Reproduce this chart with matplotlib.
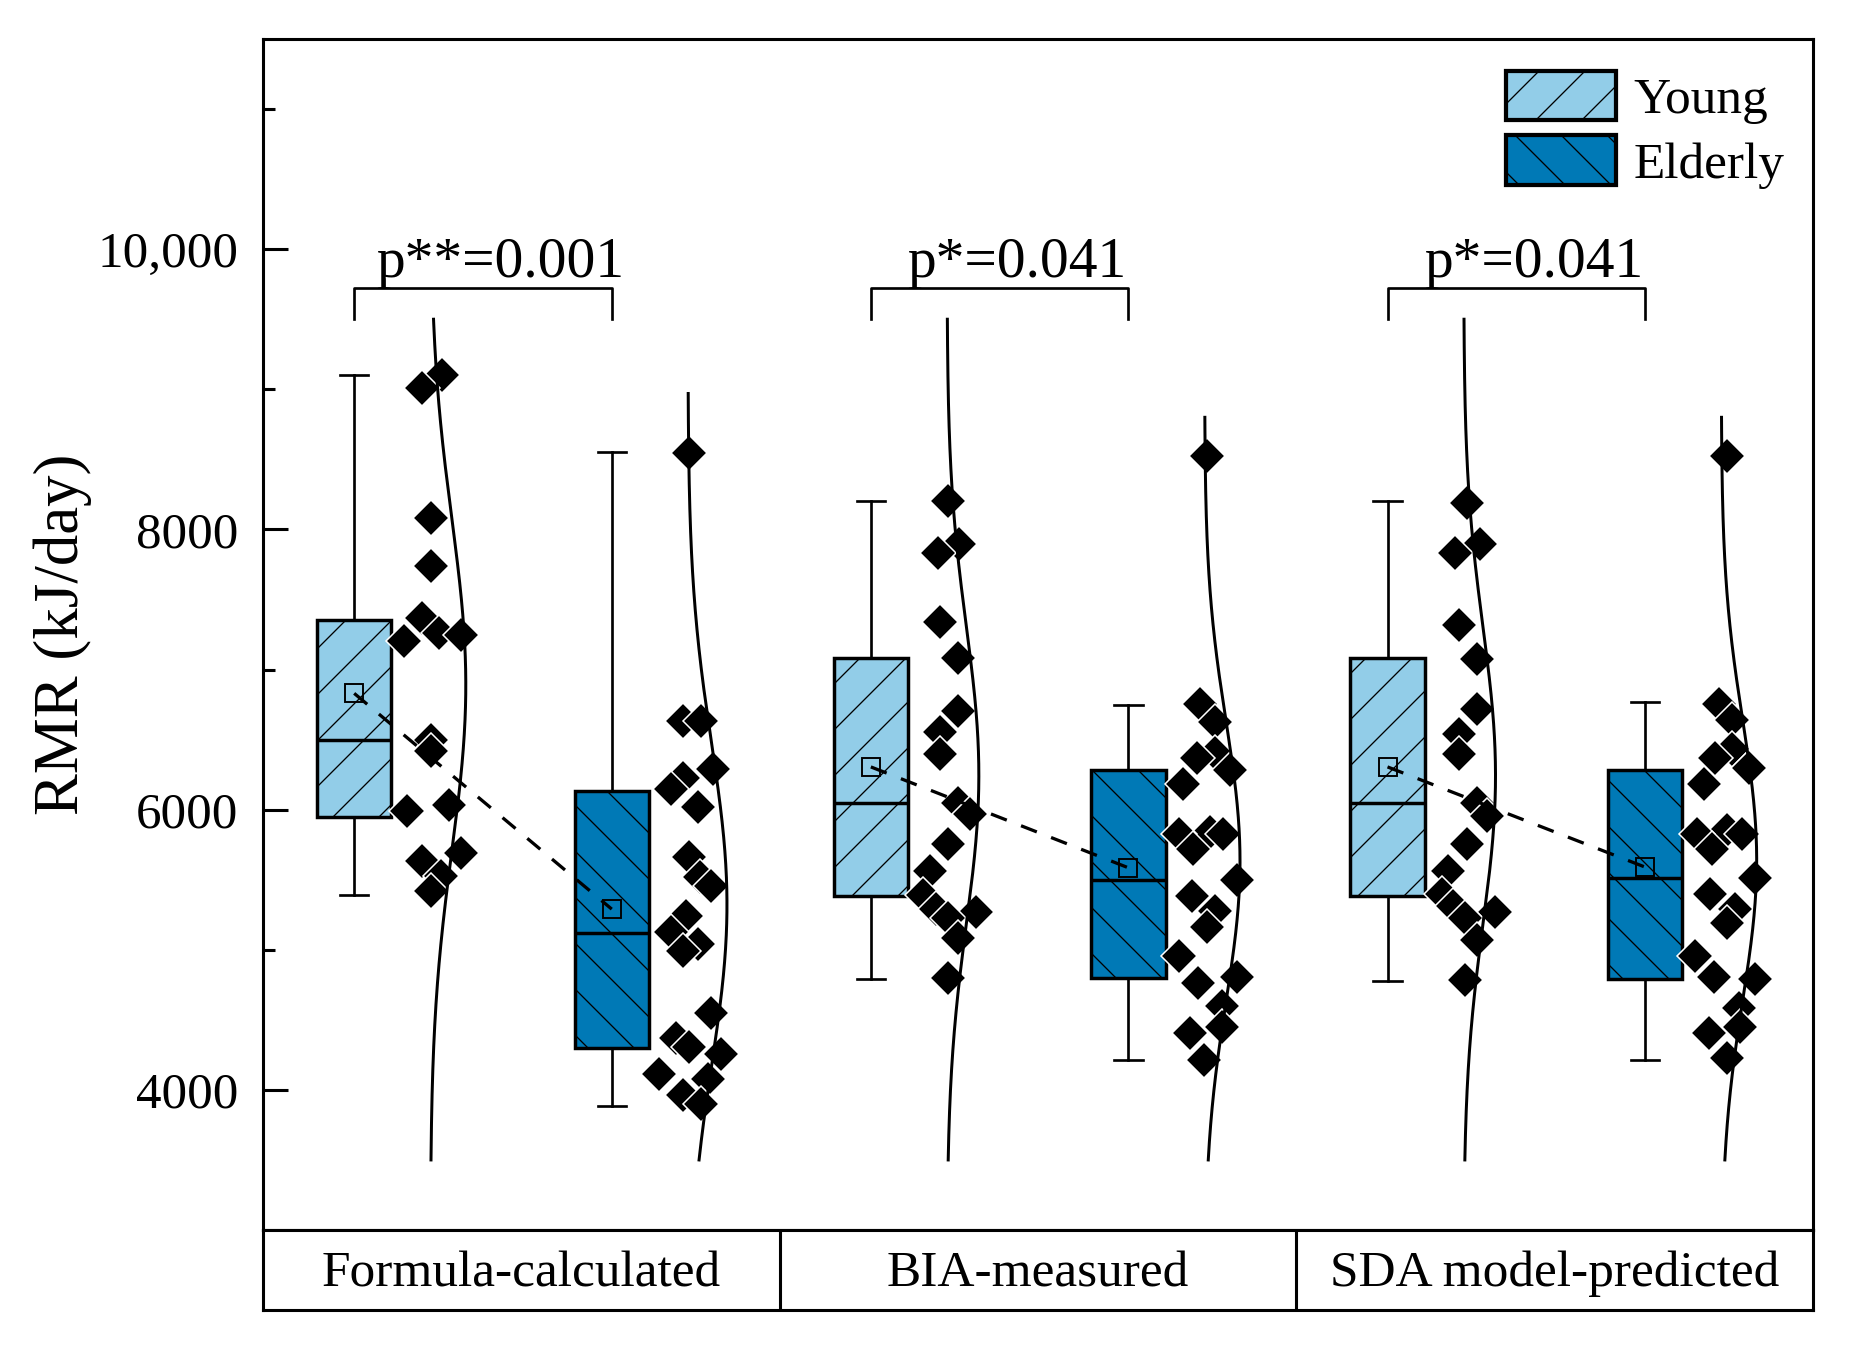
import numpy as np
import matplotlib
matplotlib.use("Agg")
import matplotlib.pyplot as plt
from matplotlib.patches import Patch
from matplotlib.ticker import FixedLocator, FixedFormatter

# ---------------- data ----------------
categories = ["Formula-calculated", "BIA-measured", "SDA model-predicted"]
groups = ["Young", "Elderly"]
p_labels = ["p**=0.001", "p*=0.041", "p*=0.041"]

# box statistics: (whislo, q1, median, q3, whishi, mean)
young_box = [
    (5390, 5950, 6500, 7350, 9100, 6830),
    (4790, 5385, 6050, 7080, 8205, 6305),
    (4780, 5385, 6050, 7080, 8200, 6305),
]
elderly_box = [
    (3885, 4300, 5120, 6130, 8550, 5290),
    (4210, 4800, 5495, 6280, 6750, 5585),
    (4210, 4790, 5510, 6280, 6770, 5590),
]

# individual points (kJ/day) and their horizontal jitter (x units from box centre)
formula_young = [9105, 9010, 8081, 7740, 7371, 7207, 7262, 7248, 6497, 6415,
                 5992, 6033, 5637, 5692, 5528, 5419]
formula_young_jit = [0.341, 0.264, 0.299, 0.299, 0.264, 0.193, 0.329, 0.413, 0.299, 0.299,
                     0.206, 0.367, 0.264, 0.413, 0.335, 0.297]
formula_elderly = [8547, 6632, 6632, 6292, 6228, 6147, 6018, 5662, 5517, 5452, 5240,
                   5130, 5040, 4990, 4548, 4371, 4306, 4257, 4112, 4080, 3966, 3900]
formula_elderly_jit = [0.300, 0.275, 0.345, 0.391, 0.275, 0.229, 0.333, 0.300, 0.340, 0.384, 0.287,
                       0.228, 0.333, 0.274, 0.384, 0.249, 0.300, 0.423, 0.184, 0.371, 0.275, 0.345]
bia_young = [8202, 7895, 7833, 7342, 7085, 6704, 6556, 6397, 6051, 5966, 5757, 5561,
             5391, 5291, 5266, 5229, 5084, 4798]
bia_young_jit = [0.299, 0.343, 0.260, 0.267, 0.338, 0.338, 0.267, 0.267, 0.338, 0.384, 0.299, 0.228,
                 0.201, 0.254, 0.407, 0.299, 0.337, 0.299]
bia_elderly = [8525, 6756, 6623, 6402, 6372, 6284, 6180, 5840, 5826, 5826, 5722, 5501,
               5382, 5278, 5160, 4953, 4805, 4760, 4597, 4449, 4405, 4213]
bia_elderly_jit = [0.303, 0.277, 0.335, 0.335, 0.265, 0.393, 0.213, 0.315, 0.194, 0.368, 0.251, 0.419,
                   0.245, 0.335, 0.303, 0.194, 0.419, 0.271, 0.361, 0.361, 0.239, 0.291]
sda_young = [8190, 7895, 7833, 7317, 7077, 6715, 6543, 6396, 6051, 5953, 5757, 5561,
             5401, 5315, 5266, 5229, 5070, 4787]
sda_young_jit = [0.307, 0.359, 0.262, 0.275, 0.346, 0.346, 0.275, 0.275, 0.346, 0.384, 0.307, 0.236,
                 0.210, 0.255, 0.416, 0.300, 0.346, 0.300]
sda_elderly = [8525, 6756, 6638, 6431, 6372, 6298, 6180, 5855, 5826, 5826, 5722, 5514,
               5397, 5293, 5189, 4953, 4805, 4790, 4583, 4449, 4405, 4228]
sda_elderly_jit = [0.317, 0.285, 0.336, 0.336, 0.272, 0.401, 0.227, 0.317, 0.201, 0.375, 0.259, 0.426,
                   0.253, 0.349, 0.317, 0.195, 0.265, 0.426, 0.362, 0.368, 0.246, 0.317]

young_points = [formula_young, bia_young, sda_young]
young_jit = [formula_young_jit, bia_young_jit, sda_young_jit]
elderly_points = [formula_elderly, bia_elderly, sda_elderly]
elderly_jit = [formula_elderly_jit, bia_elderly_jit, sda_elderly_jit]

# normal-curve extent (kJ/day)
curve_bottom = 3500
curve_top_young = [9500, 9500, 9500]
curve_top_elderly = [8970, 8800, 8800]

yticks_major = [4000, 6000, 8000, 10000]
ytick_labels = ["4000", "6000", "8000", "10,000"]
yticks_minor = [5000, 7000, 9000, 11000]

# ---------------- style ----------------
DPI = 276
C_YOUNG = "#92CDE8"
C_ELDER = "#0079B6"
plt.rcParams["font.family"] = ["Liberation Serif", "DejaVu Serif"]
plt.rcParams["hatch.linewidth"] = 0.34
plt.rcParams["hatch.color"] = "black"

fig = plt.figure(figsize=(1854 / DPI, 1353 / DPI), dpi=DPI)
L, R, T, B, PB = 263, 1813, 39, 1230, 1310
ax = fig.add_axes([L / 1854, 1 - B / 1353, (R - L) / 1854, (B - T) / 1353])
axc = fig.add_axes([L / 1854, 1 - PB / 1353, (R - L) / 1854, (PB - B) / 1353])

ax.set_xlim(0, 6)
ax.set_ylim(3000, 11500)

POS_Y, POS_E = 0.353, 1.350
BOX_W, CAP_W = 0.288, 0.11
CURVE_OFF = 0.295
curve_w_young = [0.137, 0.123, 0.123]
curve_w_elder = [0.151, 0.137, 0.137]

def stats_dict(s):
    return dict(whislo=s[0], q1=s[1], med=s[2], q3=s[3], whishi=s[4], mean=s[5], fliers=[])

for i in range(3):
    for stats, off, color, hatch, pts, jit, top, cw in [
        (young_box[i], POS_Y, C_YOUNG, "//", young_points[i], young_jit[i], curve_top_young[i], curve_w_young[i]),
        (elderly_box[i], POS_E, C_ELDER, "\\\\", elderly_points[i], elderly_jit[i], curve_top_elderly[i], curve_w_elder[i]),
    ]:
        pos = 2 * i + off
        bp = ax.bxp([stats_dict(stats)], positions=[pos], widths=BOX_W, capwidths=CAP_W,
                    patch_artist=True, showfliers=False, manage_ticks=False,
                    boxprops=dict(facecolor=color, edgecolor="black", linewidth=0.9),
                    medianprops=dict(color="black", linewidth=0.9),
                    whiskerprops=dict(color="black", linewidth=0.7),
                    capprops=dict(color="black", linewidth=0.7))
        for b in bp["boxes"]:
            b.set_hatch(hatch)
            b.set_zorder(2)
        # individual points
        xs = pos + np.asarray(jit)
        ax.plot(xs, pts, linestyle="none", marker="D", ms=6.6, mfc="black",
                mec="white", mew=0.4, zorder=4)
        # normal distribution curve
        vals = np.asarray(pts, dtype=float)
        mu, sd = vals.mean(), vals.std(ddof=1)
        yy = np.linspace(curve_bottom, top, 400)
        xx = pos + CURVE_OFF + cw * np.exp(-0.5 * ((yy - mu) / sd) ** 2)
        ax.plot(xx, yy, color="black", lw=0.78, zorder=5)

    # mean connection and mean markers
    py, pe = 2 * i + POS_Y, 2 * i + POS_E
    my, me = young_box[i][5], elderly_box[i][5]
    ax.plot([py, pe], [my, me], color="black", lw=0.85, dashes=(5.2, 4.7), zorder=6)
    ax.plot([py, pe], [my, me], linestyle="none", marker="s", ms=4.6, mfc="none",
            mec="black", mew=0.5, zorder=7)

    # significance bracket
    ax.plot([py, py, pe, pe], [9505, 9722, 9722, 9505], color="black", lw=0.7, zorder=6)
    ax.text((py + pe) / 2 + 0.066, 9800, p_labels[i], ha="center", va="baseline",
            fontsize=15)

# axes styling
for sp in ax.spines.values():
    sp.set_linewidth(0.8)
ax.tick_params(axis="x", bottom=False, labelbottom=False)
ax.yaxis.set_major_locator(FixedLocator(yticks_major))
ax.yaxis.set_major_formatter(FixedFormatter(ytick_labels))
ax.yaxis.set_minor_locator(FixedLocator(yticks_minor))
ax.tick_params(axis="y", which="major", direction="in", length=6.5, width=0.8,
               pad=6.5, labelsize=13.3)
ax.tick_params(axis="y", which="minor", direction="in", length=3.1, width=0.8)
ax.set_ylabel("RMR (kJ/day)", fontsize=16.4)
ax.yaxis.set_label_coords(-0.11, 0.5)

# legend
handles = [Patch(facecolor=C_YOUNG, edgecolor="black", hatch="//", linewidth=1.1),
           Patch(facecolor=C_ELDER, edgecolor="black", hatch="\\\\", linewidth=1.1)]
ax.legend(handles, groups, loc="upper left", bbox_to_anchor=(1506 / 1854, 1 - 71 / 1353),
          bbox_transform=fig.transFigure, frameon=False, fontsize=13.4,
          handlelength=2.15, handleheight=1.1, handletextpad=0.33,
          labelspacing=0.22, borderpad=0, borderaxespad=0)

# category panel
axc.set_xlim(0, 6)
axc.set_ylim(0, 1)
axc.tick_params(bottom=False, left=False, labelbottom=False, labelleft=False)
for sp in axc.spines.values():
    sp.set_linewidth(0.8)
for xv in [2, 4]:
    axc.axvline(xv, color="black", lw=0.8)
for i, c in enumerate(categories):
    axc.text(2 * i + 1, 0.45, c, ha="center", va="center", fontsize=13.4)

fig.savefig("out.png", dpi=DPI)
